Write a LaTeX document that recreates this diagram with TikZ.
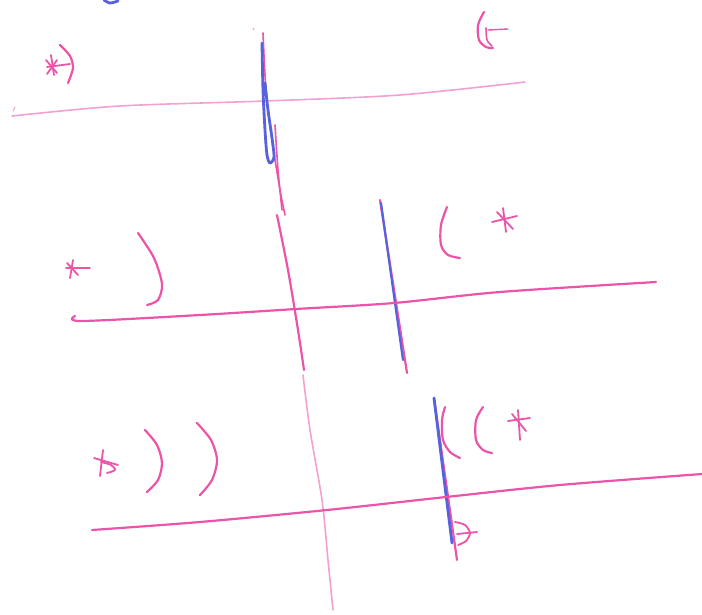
\documentclass[tikz,border=0pt]{standalone}
\definecolor{pen}{RGB}{236,84,168}
\definecolor{penlight}{RGB}{244,160,208}
\definecolor{bluepen}{RGB}{86,98,222}
\tikzset{
  pk/.style={draw=pen,line width=2.2pt,line cap=round,line join=round},
  pkl/.style={draw=penlight,line width=1.6pt,line cap=round,line join=round},
  bl/.style={draw=bluepen,line width=2.8pt,line cap=round,line join=round}
}
\begin{document}
\begin{tikzpicture}[x=1pt,y=-1pt]
\useasboundingbox[fill=white] (0,0) rectangle (702,614);
% top blue blob
\draw[bl] plot[smooth] coordinates {(104,0) (110,3) (118,1)};
% row 1 horizontal
\draw[pkl] plot[smooth] coordinates {(12,116) (120,106) (265,101) (400,95) (525,82)};
\draw[pkl,line width=1pt] (13,111) -- (15,107);
% middle vertical strands
\draw[pkl,line width=1pt] (253,28) -- (254,30);
\draw[pk,line width=1.6pt] plot[smooth] coordinates {(263,33) (266,90) (272,140) (280,190) (285,215)};
\draw[pk,line width=1.6pt] plot[smooth] coordinates {(275,125) (278,170) (282,210)};
\draw[pk] plot[smooth] coordinates {(277,215) (288,270) (298,330) (304,370)};
\draw[pkl] plot[smooth] coordinates {(303,375) (310,430) (322,500) (328,560) (333,610)};
% blue loop
\draw[bl] plot[smooth] coordinates {(262,43) (263,90) (265,130) (267,155) (270,163) (274,157) (272,138) (268,110) (265,83)};
% column 2
\draw[pk] (380,200) -- (407,373);
\draw[bl,line width=2.2pt] (381,203) -- (403,360);
% column 3
\draw[pk] (434,398) -- (457,560);
\draw[bl] (434,398) -- (452,543);
% row 2 horizontal
\draw[pk] plot[smooth] coordinates {(75,316) (82,321) (200,315) (296,309) (394,303) (500,292) (656,282)};
% row 3 horizontal
\draw[pk] plot[smooth] coordinates {(92,530) (200,522) (327,510) (446,497) (560,485) (702,474)};
% row 1 star and arc
\draw[pk,line width=1.8pt] (51,55) -- (54,75);
\draw[pk,line width=1.8pt] (47,67) -- (70,64);
\draw[pk,line width=1.8pt] (46,60) -- (57,73);
\draw[pk,line width=1.8pt] (47,74) -- (57,60);
\draw[pk] plot[smooth] coordinates {(60,45) (70,56) (73,68) (68,83)};
% top right mark
\draw[pk] plot[smooth] coordinates {(484,12) (478,25) (479,40) (486,47) (493,48)};
\draw[pk,line width=1.6pt] plot[smooth] coordinates {(486,28) (487,40) (492,46)};
\draw[pk,line width=1.4pt] (488,30) -- (508,29);
% row 2 star and arc
\draw[pk,line width=1.8pt] (66,268) -- (90,268);
\draw[pk,line width=1.8pt] (73,260) -- (70,278);
\draw[pk,line width=1.8pt] (67,263) -- (78,275);
\draw[pk] plot[smooth] coordinates {(138,233) (154,258) (162,284) (158,300) (147,305)};
% row 2 right "(" and star
\draw[pk] plot[smooth] coordinates {(447,207) (441,225) (441,245) (448,255) (460,258)};
\draw[pk,line width=1.8pt] (503,208) -- (506,232);
\draw[pk,line width=1.8pt] (492,222) -- (517,216);
\draw[pk,line width=1.8pt] (497,212) -- (513,229);
% row 3 star and arcs
\draw[pk,line width=1.8pt] (94,458) -- (118,465);
\draw[pk,line width=1.8pt] (103,450) -- (100,476);
\draw[pk,line width=1.8pt] plot[smooth] coordinates {(101,462) (111,465) (115,470) (107,473)};
\draw[pk] plot[smooth] coordinates {(145,430) (157,445) (162,463) (158,480) (147,492)};
\draw[pk] plot[smooth] coordinates {(197,423) (211,440) (217,460) (212,480) (200,495)};
% row 3 right "((" and star
\draw[pk] plot[smooth] coordinates {(445,407) (442,420) (443,440) (450,452) (460,458)};
\draw[pk] plot[smooth] coordinates {(483,407) (476,420) (476,440) (483,450) (492,453)};
\draw[pk,line width=1.8pt] (518,410) -- (520,440);
\draw[pk,line width=1.8pt] (508,421) -- (530,418);
\draw[pk,line width=1.8pt] (512,414) -- (526,431);
% bottom mark
\draw[pk,line width=1.8pt] plot[smooth] coordinates {(455,522) (465,525) (470,533) (466,541) (458,545)};
\draw[pk,line width=1.8pt] (457,534) -- (477,532);
\end{tikzpicture}
\end{document}
